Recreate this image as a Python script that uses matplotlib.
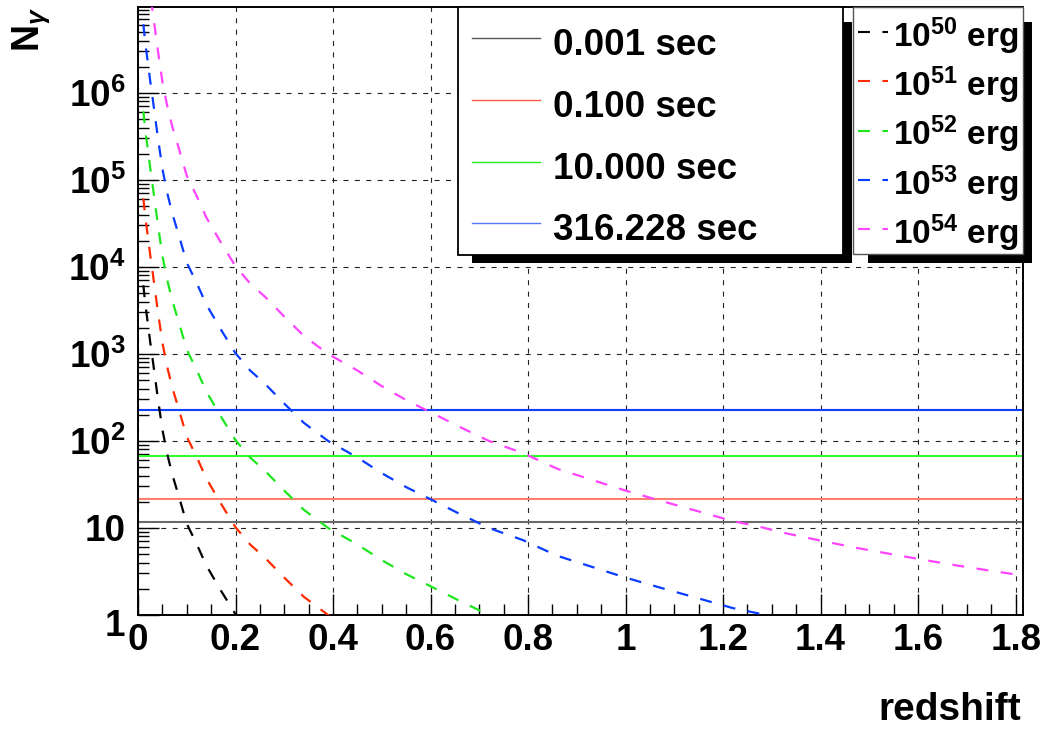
import matplotlib
matplotlib.use("Agg")
import matplotlib.pyplot as plt
from matplotlib.patches import Rectangle
from matplotlib.lines import Line2D
from matplotlib.transforms import ScaledTranslation
from matplotlib.ticker import FixedLocator, FixedFormatter, MultipleLocator, LogLocator, NullFormatter, FuncFormatter
import numpy as np

plt.rcParams['font.family'] = ['Liberation Sans', 'DejaVu Sans']
plt.rcParams['font.weight'] = 'bold'
plt.rcParams['mathtext.fontset'] = 'custom'
plt.rcParams['mathtext.rm'] = 'Liberation Sans:bold'
plt.rcParams['mathtext.bf'] = 'Liberation Sans:bold'
plt.rcParams['mathtext.it'] = 'Liberation Sans:bold:italic'
plt.rcParams['mathtext.sf'] = 'Liberation Sans:bold'
plt.rcParams['lines.scale_dashes'] = False

# redshift grid shared by the curves
redshift = [0.011, 0.015, 0.020, 0.025, 0.030, 0.040, 0.050, 0.060, 0.070, 0.085,
            0.100, 0.120, 0.140, 0.170, 0.200, 0.230, 0.260, 0.300, 0.340, 0.390,
            0.450, 0.500, 0.550, 0.600, 0.660, 0.720, 0.790, 0.860, 0.930, 1.000,
            1.070, 1.150, 1.220, 1.270, 1.320, 1.400, 1.470, 1.550, 1.620, 1.700,
            1.760, 1.815]

# number of photons for each burst energy
n_e50 = [6170, 3720, 2290, 1380, 871, 331, 135, 70.8, 41.7, 21.9,
         11.2, 6.61, 3.72, 1.91, 1.02, 0.646, 0.457]
n_e51 = [61700, 37200, 22900, 13800, 8710, 3310, 1350, 708, 417, 219,
         112, 66.1, 37.2, 19.1, 10.2, 6.46, 4.57, 2.69, 1.62, 1.00, 0.646]
n_e52 = [617000, 372000, 229000, 138000, 87100, 33100, 13500, 7080, 4170, 2190,
         1120, 661, 372, 191, 102, 64.6, 45.7, 26.9, 16.2, 10.0,
         6.46, 4.27, 2.95, 2.14, 1.45, 1.00, 0.724]
n_e53 = [6.17e6, 3.72e6, 2.29e6, 1.38e6, 8.71e5, 3.31e5, 1.35e5, 70800, 41700, 21900,
         11200, 6610, 3720, 1910, 1020, 646, 457, 269, 162, 100,
         64.6, 42.7, 29.5, 21.4, 14.5, 10.0, 7.24, 4.79, 3.59, 2.69,
         2.07, 1.55, 1.20, 1.05, 0.891]
n_e54 = [6.17e7, 3.72e7, 2.29e7, 1.38e7, 8.71e6, 3.31e6, 1.35e6, 7.08e5, 4.17e5, 2.19e5,
         1.12e5, 66100, 37200, 19100, 10200, 6460, 4570, 2690, 1620, 1000,
         646, 427, 295, 214, 145, 100, 72.4, 47.9, 35.9, 26.9,
         20.7, 15.5, 12.0, 10.5, 8.91, 7.16, 5.96, 4.95, 4.22, 3.55,
         3.16, 2.84]
energy_labels = [r'$\mathrm{10^{50}}$ erg', r'$\mathrm{10^{51}}$ erg', r'$\mathrm{10^{52}}$ erg',
                 r'$\mathrm{10^{53}}$ erg', r'$\mathrm{10^{54}}$ erg']
energy_colors = ['#000000', '#ff2a00', '#1ee61e', '#0a3cff', '#ff44ff']

# detection thresholds for each duration
durations = ['0.001 sec', '0.100 sec', '10.000 sec', '316.228 sec']
thresholds = [11.8, 21.5, 67.0, 225.0]
thr_colors = ['#6a6a6a', '#ff8070', '#33ff33', '#1040ff']
thr_leg_colors = ['#555555', '#ff5a44', '#22ee22', '#5577ff']

ytick_vals = [1, 10, 100, 1e3, 1e4, 1e5, 1e6]
ytick_labels = ['1', '10', r'$\mathrm{10^{2}}$', r'$\mathrm{10^{3}}$', r'$\mathrm{10^{4}}$',
                r'$\mathrm{10^{5}}$', r'$\mathrm{10^{6}}$']

W, H = 1044, 730
fig = plt.figure(figsize=(W / 100, H / 100), dpi=100)


def fx(x):
    return x / W


def fy(y):
    return 1 - y / H


ax = fig.add_axes([fx(138), fy(615), (1022.7 - 138) / W, (615 - 6.5) / H])
ax.set_yscale('log')
ax.set_xlim(0, 1.8145)
ax.set_ylim(1, 10 ** 6.994)

dash = (0, (8.6, 9.0))
for val, c in zip(thresholds, thr_colors):
    ax.axhline(val, color=c, lw=1.5, zorder=2)

series = [n_e50, n_e51, n_e52, n_e53, n_e54]
for vals, c in zip(series, energy_colors):
    ax.plot(redshift[:len(vals)], vals, color=c, lw=1.6, linestyle=dash, zorder=3)

ax.yaxis.set_major_locator(FixedLocator(ytick_vals))
ax.yaxis.set_major_formatter(FixedFormatter(ytick_labels))
ax.yaxis.set_minor_locator(LogLocator(base=10, subs=np.arange(2, 10), numticks=30))
ax.yaxis.set_minor_formatter(NullFormatter())
ax.xaxis.set_major_locator(MultipleLocator(0.2))
ax.xaxis.set_minor_locator(MultipleLocator(0.05))
ax.xaxis.set_major_formatter(FuncFormatter(lambda v, p: '%g' % round(v, 2)))

ax.grid(True, which='major', color='#222222', lw=0.8, linestyle=(0, (3.6, 4.6)))
ax.tick_params(which='both', direction='in', top=False, right=False, width=1, labelsize=26.5)
ax.tick_params(which='major', length=15)
ax.tick_params(which='minor', length=8)
ax.tick_params(axis='x', pad=6)
ax.tick_params(axis='y', pad=9)
for s in ax.spines.values():
    s.set_linewidth(1.4)

# the "1" label sits a bit low, as in the original
lab1 = ax.yaxis.get_major_ticks()[0].label1
lab1.set_transform(lab1.get_transform() + ScaledTranslation(0, -0.07, fig.dpi_scale_trans))

# axis titles
fig.text(fx(1021), fy(720), 'redshift', ha='right', va='baseline', fontsize=28)
fig.text(fx(10), fy(7), r'N$_{\gamma}$', rotation=90, ha='left', va='top', fontsize=27)


def box(x0, y0, x1, y1, face, edge, lw, z):
    r = Rectangle((fx(x0), fy(y1)), (x1 - x0) / W, (y1 - y0) / H, transform=fig.transFigure,
                  facecolor=face, edgecolor=edge, lw=lw, zorder=z)
    fig.add_artist(r)


# legend of durations
box(471.7, 21.7, 851.7, 263, 'black', 'black', 0, 10)
box(457.7, 6.7, 842.7, 255, 'white', 'black', 1.3, 11)
for i, (lab, c) in enumerate(zip(durations, thr_leg_colors)):
    yy = 38.3 + i * 61.7
    fig.add_artist(Line2D([fx(471.7), fx(540)], [fy(yy), fy(yy)], color=c, lw=1.0,
                          transform=fig.transFigure, zorder=12))
    fig.text(fx(553), fy(yy + 17), lab, ha='left', va='baseline', fontsize=26.5, zorder=12)

# legend of energies
box(867.7, 21.7, 1031.7, 262.7, 'black', 'black', 0, 10)
box(853.3, 6.7, 1022.7, 254.3, 'white', '#555555', 1.0, 11)
for i, (lab, c) in enumerate(zip(energy_labels, energy_colors)):
    yy = 31.7 + i * 49.4
    fig.add_artist(Line2D([fx(858), fx(888)], [fy(yy), fy(yy)], color=c, lw=1.5,
                          linestyle=dash, transform=fig.transFigure, zorder=12))
    fig.text(fx(893), fy(yy + 15), lab, ha='left', va='baseline', fontsize=24, zorder=12)

fig.savefig('out.png', dpi=100)
